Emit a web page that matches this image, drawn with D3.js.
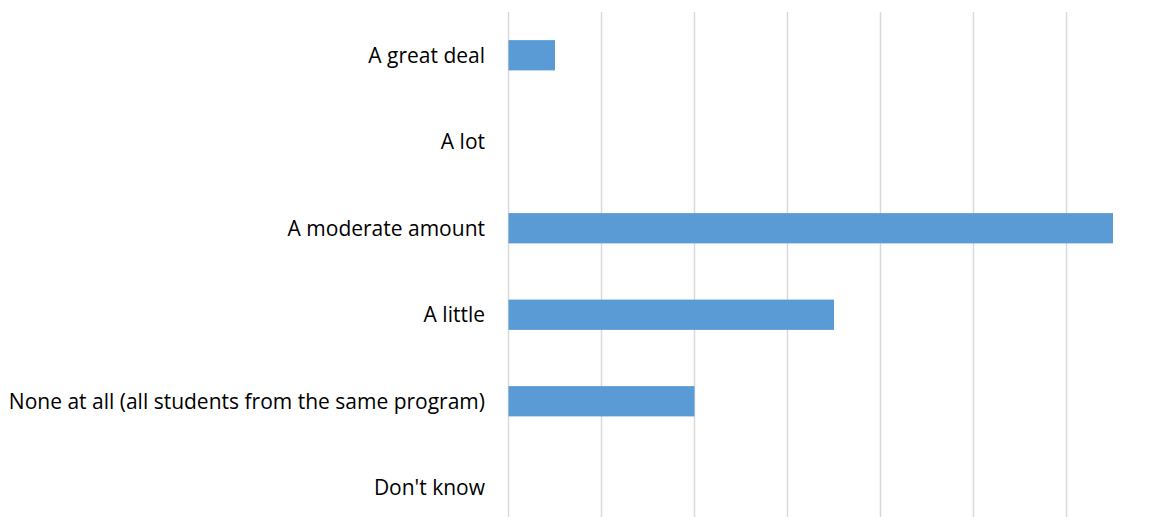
<!DOCTYPE html>
<html><head><meta charset="utf-8">
<script src="https://cdn.jsdelivr.net/npm/d3@7"></script>
<style>body{margin:0;background:#fff}</style>
</head><body>
<svg id="c" width="1154" height="517"></svg>
<script>
const categories = ["A great deal","A lot","A moderate amount","A little","None at all (all students from the same program)","Don't know"];
const values = [1, 0, 13, 7, 4, 0];
const ticks = [0,2,4,6,8,10,12];

const svg = d3.select("#c");
const x = d3.scaleLinear().domain([0,13]).range([508.5,1113]);
const y = d3.scaleBand().domain(categories).range([12,531]).paddingInner(0.65).paddingOuter(0.325);

svg.append("g").selectAll("line").data(ticks).join("line")
  .attr("x1", d=>x(d)).attr("x2", d=>x(d))
  .attr("y1", 12).attr("y2", 517)
  .attr("stroke", "#d9d9d9").attr("stroke-width", 1.5);

svg.append("g").selectAll("rect").data(categories).join("rect")
  .attr("x", x(0)).attr("y", d=>y(d))
  .attr("width", (d,i)=>x(values[i])-x(0))
  .attr("height", y.bandwidth())
  .attr("fill", "#5b9bd5");

svg.append("g").selectAll("text").data(categories).join("text")
  .attr("x", 485).attr("y", d=>y(d)+y.bandwidth()/2)
  .attr("dy","0.35em").attr("text-anchor","end")
  .attr("font-family","'Open Sans', sans-serif").attr("font-size", 21)
  .attr("fill","#000").text(d=>d);
</script>
</body></html>
